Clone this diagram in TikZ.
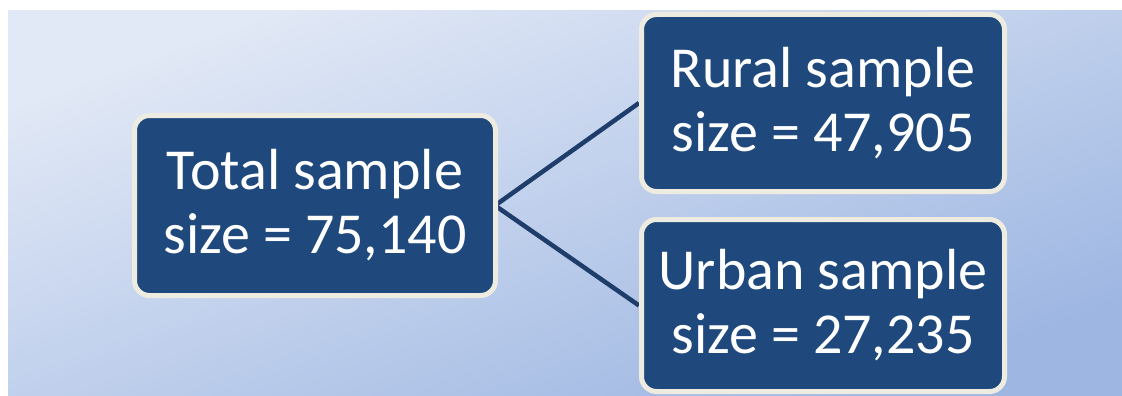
\documentclass[tikz,border=0pt]{standalone}
\usepackage{fontspec}
\setmainfont{Carlito}
\usetikzlibrary{shapes,arrows,positioning,calc,backgrounds,fit}

\definecolor{boxblue}{HTML}{1F497D}
\definecolor{boxrim}{HTML}{EEECE1}
\definecolor{linknavy}{HTML}{1F3D6B}
\definecolor{bglight}{HTML}{E2E9F6}
\definecolor{bgdark}{HTML}{9DB6E2}

\tikzset{
samplebox/.style={
draw=boxrim,
line width=5pt,
fill=boxblue,
rounded corners=15pt,
text=white,
align=center,
font=\fontsize{58}{64}\selectfont
},
samplelink/.style={draw=linknavy, line width=4.5pt}
}

\begin{document}
\begin{tikzpicture}[x=1pt,y=-1pt]

\useasboundingbox (0,0) rectangle (1122,396);

% -------- Sample boxes --------
\node[samplebox, minimum width=361pt, minimum height=180pt] (total) at (315,205.5)
{Total sample\\size = 75,140};

\node[samplebox, minimum width=363pt, minimum height=177pt] (rural) at (823,103)
{Rural sample\\size = 47,905};

\node[samplebox, minimum width=363pt, minimum height=172pt] (urban) at (823,305.5)
{Urban sample\\size = 27,235};

% -------- Background panel and links --------
\begin{scope}[on background layer]
\shade[top color=bglight, bottom color=bgdark, shading angle=20]
(8,11) rectangle (1122,396);
\draw[samplelink] ([xshift=-3pt]total.east) -- (rural.west);
\draw[samplelink] ([xshift=-3pt]total.east) -- (urban.west);
\end{scope}

\end{tikzpicture}
\end{document}
